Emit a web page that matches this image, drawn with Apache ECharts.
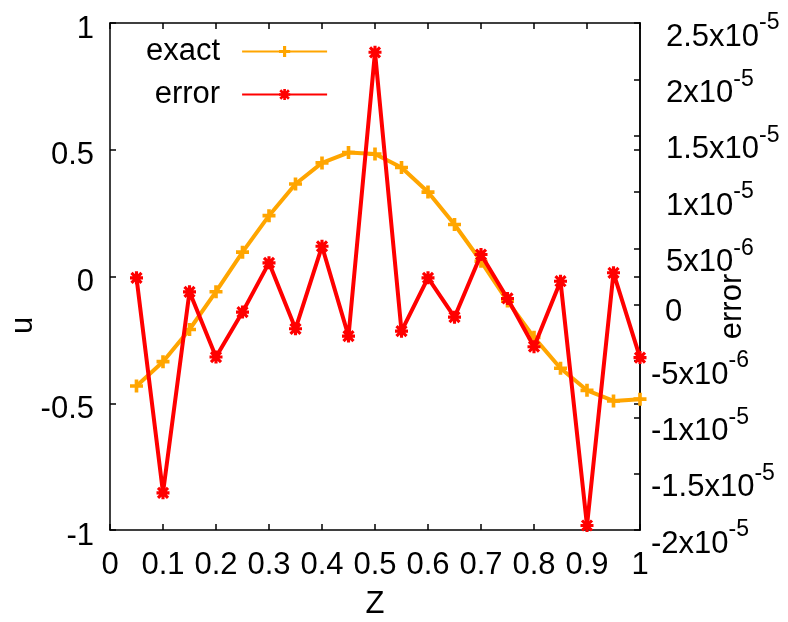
<!DOCTYPE html>
<html>
<head>
<meta charset="utf-8">
<script src="https://cdn.jsdelivr.net/npm/echarts@6/dist/echarts.min.js"></script>
<style>
  html, body { margin: 0; padding: 0; background: #fff; }
  #chart-container { width: 788px; height: 622px; }
</style>
</head>
<body>
<div id="chart-container"></div>
<script>
// Z positions
var zValues = [0.05, 0.1, 0.15, 0.2, 0.25, 0.3, 0.35, 0.4, 0.45, 0.5,
               0.55, 0.6, 0.65, 0.7, 0.75, 0.8, 0.85, 0.9, 0.95, 1.0];
// exact solution u (left axis)
var exactValues = [-0.432, -0.336, -0.209, -0.060, 0.096, 0.240, 0.365, 0.448, 0.489, 0.483,
                   0.430, 0.333, 0.205, 0.060, -0.097, -0.240, -0.362, -0.449, -0.491, -0.484];
// error (right axis), in units of 1e-6
var errorValues = [2.38, -16.7, 1.14, -4.65, -0.66, 3.71, -2.14, 5.18, -2.79, 22.4,
                   -2.35, 2.38, -1.11, 4.45, 0.55, -3.73, 2.08, -19.6, 2.83, -4.7];
// right axis tick labels, from -2x10^-5 up to 2.5x10^-5
var errMant = ['-2x10', '-1.5x10', '-1x10', '-5x10', '0', '5x10', '1x10', '1.5x10', '2x10', '2.5x10'];
var errExp = ['-5', '-5', '-5', '-6', '', '-6', '-5', '-5', '-5', '-5'];

var FONT = '"Liberation Sans", Arial, Helvetica, sans-serif';
var FS = 31;

// gnuplot-like point types: "+" and "*"
var plusPath = 'path://M3.6,0H6.4V10H3.6Z M0,3.6H10V6.4H0Z';
var starPath = 'path://M3.8,0H6.2V10H3.8Z M0,3.8H10V6.2H0Z M0.3,2L2,0.3L9.7,8L8,9.7Z M8,0.3L9.7,2L2,9.7L0.3,8Z';

var dom = document.getElementById('chart-container');
var myChart = echarts.init(dom, null, { renderer: 'canvas' });

var exactData = zValues.map(function (z, i) { return [z, exactValues[i]]; });
var errorData = zValues.map(function (z, i) { return [z, errorValues[i]]; });

var axisLineStyle = { color: '#000', width: 1.5 };
var txt = { fontFamily: FONT, fontSize: FS, color: '#000', lineHeight: 31 };

var option = {
  animation: false,
  backgroundColor: '#fff',
  textStyle: { fontFamily: FONT },
  grid: { left: 110, right: 148, top: 23, bottom: 92, outerBoundsMode: 'none', containLabel: false },
  legend: {
    orient: 'vertical',
    left: 141,
    top: 31,
    align: 'right',
    itemWidth: 85,
    itemHeight: 14,
    itemGap: 12,
    textStyle: {
      fontFamily: FONT, fontSize: FS, color: '#000', lineHeight: 31,
      padding: [0, 17, 0, 0]
    },
    data: ['exact', 'error']
  },
  xAxis: [{
    type: 'value', min: 0, max: 1, interval: 0.1,
    name: 'Z', nameLocation: 'middle', nameGap: 59, nameMoveOverlap: false,
    nameTextStyle: { fontFamily: FONT, fontSize: FS, color: '#000' },
    axisLine: { show: true, onZero: false, lineStyle: axisLineStyle },
    axisTick: { show: true, inside: true, length: 6, lineStyle: axisLineStyle },
    axisLabel: { fontFamily: FONT, fontSize: FS, color: '#000', margin: 20 },
    splitLine: { show: false }
  }, {
    type: 'value', min: 0, max: 1, interval: 0.1, position: 'top',
    axisLine: { show: true, onZero: false, lineStyle: axisLineStyle },
    axisTick: { show: true, inside: true, length: 6, lineStyle: axisLineStyle },
    axisLabel: { show: false },
    splitLine: { show: false }
  }],
  yAxis: [{
    type: 'value', min: -1, max: 1, interval: 0.5, position: 'left',
    name: '{a|u}', nameLocation: 'middle', nameGap: 71, nameRotate: 90, nameMoveOverlap: false,
    nameTextStyle: { rich: { a: Object.assign({ padding: [0, 98, 0, 0] }, txt) } },
    axisLine: { show: true, onZero: false, lineStyle: axisLineStyle },
    axisTick: { show: true, inside: true, length: 6, lineStyle: axisLineStyle },
    axisLabel: {
      margin: 16,
      formatter: function (v) { return '{e| }\n{v|' + v + '}'; },
      rich: {
        e: { fontSize: 6, lineHeight: 12 },
        v: txt
      }
    },
    splitLine: { show: false }
  }, {
    type: 'value', min: -20, max: 25, interval: 5, position: 'right',
    name: '{a|error}', nameLocation: 'middle', nameGap: 77, nameRotate: 90, nameMoveOverlap: false,
    nameTextStyle: { rich: { a: Object.assign({ padding: [0, 60, 0, 0] }, txt) } },
    axisLine: { show: true, onZero: false, lineStyle: axisLineStyle },
    axisTick: { show: true, inside: true, length: 6, lineStyle: axisLineStyle },
    axisLabel: {
      margin: 11,
      formatter: function (v) {
        var i = Math.round(v / 5) + 4;
        if (errExp[i] === '') return '{e0| }\n{z|' + errMant[i] + '}';
        var st = v < 0 ? 'n' : 'p';
        return '{e| }\n{' + st + '|' + errMant[i] + '}{s|' + errExp[i] + '}';
      },
      rich: {
        e: { fontSize: 6, lineHeight: 28 },
        e0: { fontSize: 6, lineHeight: 8 },
        n: { fontFamily: FONT, fontSize: FS, color: '#000', lineHeight: 31, padding: [24, 0, 0, 0], verticalAlign: 'bottom' },
        p: { fontFamily: FONT, fontSize: FS, color: '#000', lineHeight: 31, padding: [24, 0, 0, 15], verticalAlign: 'bottom' },
        s: { fontFamily: FONT, fontSize: 23, color: '#000', lineHeight: 23, padding: [0, 0, 18, 0], verticalAlign: 'bottom' },
        z: { fontFamily: FONT, fontSize: FS, color: '#000', lineHeight: 31, padding: [8, 0, 0, 14] }
      }
    },
    splitLine: { show: false }
  }, {
    type: 'value', min: -1, max: 1, interval: 0.5, position: 'right',
    axisLine: { show: true, onZero: false, lineStyle: axisLineStyle },
    axisTick: { show: true, inside: true, length: 6, lineStyle: axisLineStyle },
    axisLabel: { show: false },
    splitLine: { show: false }
  }],
  series: [{
    name: 'exact',
    type: 'line',
    xAxisIndex: 0, yAxisIndex: 0,
    data: exactData,
    symbol: plusPath,
    symbolSize: 13,
    showAllSymbol: true,
    lineStyle: { color: '#FFA500', width: 4 },
    itemStyle: { color: '#FFA500' },
    z: 2
  }, {
    name: 'error',
    type: 'line',
    xAxisIndex: 0, yAxisIndex: 1,
    data: errorData,
    symbol: starPath,
    symbolSize: 13,
    showAllSymbol: true,
    lineStyle: { color: '#FF0000', width: 4 },
    itemStyle: { color: '#FF0000' },
    z: 3
  }]
};

if (option && typeof option === 'object') {
  myChart.setOption(option);
}
</script>
</body>
</html>
